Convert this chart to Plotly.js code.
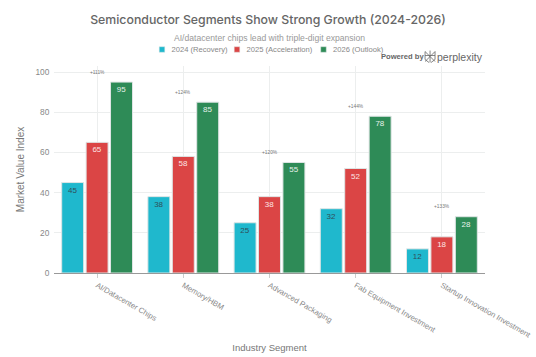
<!DOCTYPE html>
<html><head><meta charset="utf-8">
<script src="https://cdn.plot.ly/plotly-3.0.1.min.js"></script>
<style>html,body{margin:0;padding:0;background:#fff}</style></head>
<body><div id="chart" style="width:536px;height:357px"></div>
<script>
const categories = ["AI/Datacenter Chips","Memory/HBM","Advanced Packaging","Fab Equipment Investment","Startup Innovation Investment"];
const values2024 = [45,38,25,32,12];
const values2025 = [65,58,38,52,18];
const values2026 = [95,85,55,78,28];
const growthLabels = ["+111%","+124%","+120%","+144%","+133%"];
const seriesNames = ["2024 (Recovery)","2025 (Acceleration)","2026 (Outlook)"];
const seriesColors = ["#1FB8CD","#DB4545","#2E8B57"];
const textColors = ["#2f4f5a","#fbe4e4","#e6f2ea"];
const F = "'Liberation Sans', Arial, sans-serif";
const T = "Inter, 'Liberation Sans', sans-serif";
const mk = (i, v) => ({type:"bar", name:seriesNames[i], x:categories, y:v, text:v.map(String),
  textposition:"inside", insidetextanchor:"end", textangle:0, constraintext:"none",
  textfont:{size:8,color:textColors[i],family:F},
  marker:{color:seriesColors[i],line:{color:"#dfe5e5",width:1}}, cliponaxis:false});
const traces = [mk(0,values2024),mk(1,values2025),mk(2,values2026)];
const anns = categories.map((c,i)=>({x:c,y:values2026[i]+5,text:growthLabels[i],showarrow:false,
  xref:"x",yref:"y",font:{size:4.8,color:"#777",family:F}}));
anns.push({xref:"paper",yref:"paper",x:0.5,y:1.137,xanchor:"center",yanchor:"middle",showarrow:false,
  text:"AI/datacenter chips lead with triple-digit expansion",font:{size:8.6,color:"#999",family:F}});
anns.push({xref:"paper",yref:"paper",x:0.858,y:1.0458,xanchor:"right",yanchor:"middle",showarrow:false,xshift:2,
  text:"<b>Powered by</b>",font:{size:7.6,color:"#666",family:F}});
anns.push({xref:"paper",yref:"paper",x:1.0,y:1.0458,xanchor:"right",yanchor:"middle",showarrow:false,
  text:"perplexity",font:{size:10.5,color:"#666",family:F}});
const lx = 0.8725, ly = 1.0458;
const sx = 1/431.5, sy = 1/207.5;
const seg = (a,b,c,d)=>({type:"line",xref:"paper",yref:"paper",x0:lx+a*sx,y0:ly+b*sy,x1:lx+c*sx,y1:ly+d*sy,line:{color:"#666",width:0.8}});
const shapes = [seg(0,-6,0,6),seg(-5,5,0,0),seg(5,5,0,0),seg(-5,-5,0,0),seg(5,-5,0,0),
  seg(-5,5,-5,-3),seg(5,5,5,-3),seg(-5,1,5,1),seg(-5,-3,-1,-6),seg(5,-3,1,-6)];
const layout = {
  width:536,height:357,paper_bgcolor:"#fff",plot_bgcolor:"#fff",
  font:{family:F,color:"#777"},
  margin:{l:53.5,r:51,t:65.5,b:84},
  title:{text:"Semiconductor Segments Show Strong Growth (2024-2026)",
    font:{size:12.3,color:"#666",family:T,weight:500},x:0.5,xanchor:"center",y:0.944,yanchor:"middle"},
  legend:{orientation:"h",x:0.5,xanchor:"center",y:1.1,yanchor:"middle",bgcolor:"rgba(0,0,0,0)",font:{size:7.6,color:"#888",family:F},
    traceorder:"normal"},
  barmode:"group",bargap:0.15,bargroupgap:0.1,
  xaxis:{type:"category",tickangle:30,tickfont:{size:7.7,color:"#888",family:F},
    showgrid:true,gridcolor:"#eceeee",gridwidth:1,ticks:"outside",ticklen:4,tickcolor:"#ccc",
    showline:true,linecolor:"#999",linewidth:1,automargin:false,
    title:{text:"Industry Segment",font:{size:9.5,color:"#777",family:F},standoff:5}},
  yaxis:{range:[0,103],tick0:0,dtick:20,tickfont:{size:8.3,color:"#888",family:F},
    showgrid:true,gridcolor:"#eceeee",gridwidth:1,zeroline:true,zerolinecolor:"#999",zerolinewidth:1,
    ticks:"outside",ticklen:2,tickcolor:"#fff",automargin:false,
    title:{text:"Market Value Index",font:{size:10,color:"#777",family:F}}},
  annotations:anns,shapes:shapes
};
const legendSwatchX = [162,237,323.5];
const legendY = 49.5;
Plotly.newPlot("chart",traces,layout,{displayModeBar:false,staticPlot:true}).then(gd=>{
  const lg = gd.querySelector(".legend");
  if(!lg) return;
  lg.setAttribute("transform",`translate(0,${legendY})`);
  const sb = lg.querySelector(".scrollbox");
  if(sb){sb.removeAttribute("clip-path");sb.setAttribute("transform","");sb.style.clipPath="none";}
  lg.removeAttribute("clip-path");
  const g = lg.querySelector(".groups"); if(g) g.setAttribute("transform","");
  lg.querySelectorAll(".traces").forEach((t,i)=>{
    t.setAttribute("transform",`translate(${legendSwatchX[i]-20},0)`);
    const tx = t.querySelector("text.legendtext");
    if(tx) tx.setAttribute("x",29.5);
    t.querySelectorAll(".legendpoints path").forEach(p=>p.setAttribute("transform","translate(20,0) scale(0.46)"));
  });
});
</script></body></html>
